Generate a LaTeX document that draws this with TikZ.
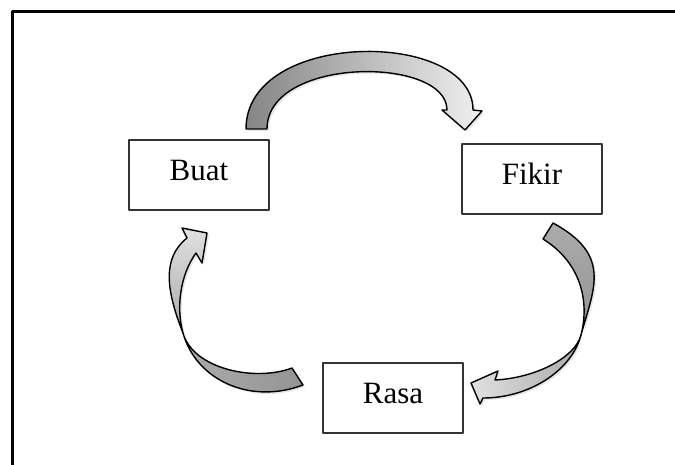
\documentclass[tikz,border=0pt]{standalone}
\usepackage{fontspec}
\setmainfont{Liberation Serif}
\usetikzlibrary{shadows}
\begin{document}
\begin{tikzpicture}[x=1pt, y=-1pt, line join=round, line cap=round,
	kotak/.style={draw=black!80, line width=1.3pt, fill=white, minimum width=140pt, minimum height=70pt,
		inner sep=0pt, text height=21pt, text depth=10pt, font=\fontsize{31}{36}\selectfont},
	panah/.style={draw=black, line width=1.4pt, drop shadow={opacity=0.2, shadow xshift=2pt, shadow yshift=-2pt}}]
	\useasboundingbox (0,0) rectangle (675,465);
	\draw[line width=2.2pt, line cap=butt] (12.5,465) -- (12.5,11.5) -- (675,11.5);
	\foreach \n/\t/\x/\y in {buat/Buat/199/175, fikir/Fikir/532/179, rasa/Rasa/393/398}
	\node[kotak] (\n) at (\x,\y) {\t};
	% Buat -> Fikir
	\path
	(246,129) coordinate (A1)
	(267,129) coordinate (A2)
	(473,110) coordinate (A3)
	(447,110) coordinate (A4);
	\draw[panah, left color=black!48, right color=black!6]
	(A1) .. controls (246,29) and (473,29) .. (A3) -- (482,111) -- (465,130) -- (442,110) -- (A4)
	.. controls (447,56) and (267,56) .. (A2) -- cycle;
	% Fikir -> Rasa
	\path
	(553,223) coordinate (B1)
	(543,239) coordinate (B2)
	(581,335) coordinate (B)
	(483,398) coordinate (B3)
	(495,380) coordinate (B4);
	\draw[panah, top color=black!33, bottom color=black!42]
	(B1) .. controls (612,255) and (594,288) .. (B) .. controls (590,300) and (580,262) .. (B2) -- cycle;
	\draw[panah, right color=black!33, left color=black!12]
	(B) .. controls (572,370) and (530,398) .. (B3) -- (480,404) -- (471,383) -- (498,371) -- (B4)
	.. controls (535,378) and (575,358) .. (B) -- cycle;
	% Rasa -> Buat
	\path
	(303,385) coordinate (C1)
	(292,368) coordinate (C2)
	(183,333) coordinate (C)
	(187,238) coordinate (C3)
	(196,253) coordinate (C4);
	\draw[panah, right color=black!42, left color=black!33]
	(C1) .. controls (250,405) and (196,380) .. (C) .. controls (193,369) and (255,382) .. (C2) -- cycle;
	\draw[panah, bottom color=black!33, top color=black!12]
	(C) .. controls (166,290) and (162,258) .. (C3) -- (182,228) -- (207,233) -- (202,263) -- (C4)
	.. controls (180,275) and (176,308) .. (C) -- cycle;
\end{tikzpicture}
\end{document}
